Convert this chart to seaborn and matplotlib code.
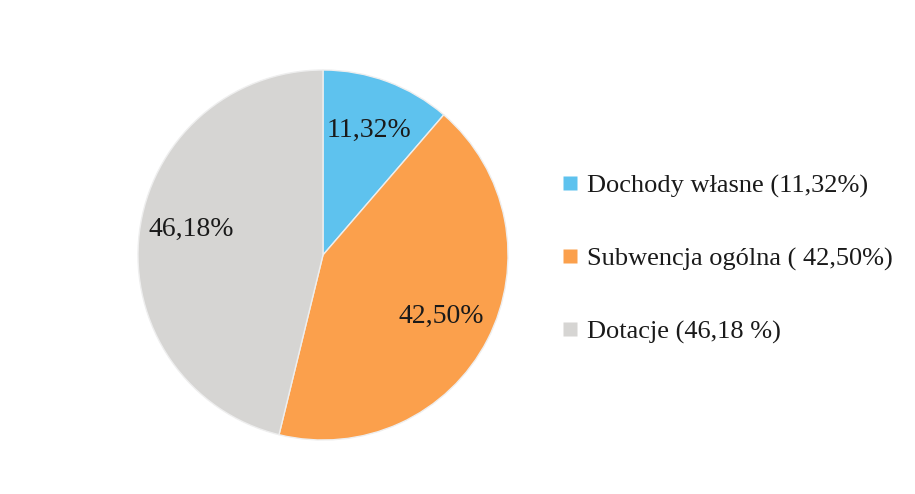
import matplotlib
matplotlib.use("Agg")
import matplotlib.pyplot as plt
from matplotlib.lines import Line2D
import seaborn as sns

# -------------------------------
# DATA
# -------------------------------

categories = ["Dochody własne", "Subwencja ogólna", "Dotacje"]
shares = [11.32, 42.50, 46.18]
legend_labels = ["Dochody własne (11,32%)", "Subwencja ogólna ( 42,50%)", "Dotacje (46,18 %)"]
colors = ["#5ec2ee", "#fba04c", "#d6d5d3"]

# -------------------------------
# PLOT
# -------------------------------

sns.set_style("white")
plt.rcParams["font.family"] = ["Liberation Serif", "DejaVu Serif"]

fig = plt.figure(figsize=(9.15, 4.94), dpi=100)
ax = fig.add_axes([0.1508, 0.1093, 0.4044, 0.749])

wedges, texts, autotexts = ax.pie(
    shares,
    colors=colors,
    startangle=90,
    counterclock=False,
    autopct=lambda p: f"{p:.2f}%".replace(".", ","),
    pctdistance=0.72,
    wedgeprops={"edgecolor": "#eeeeee", "linewidth": 1},
    textprops={"fontsize": 20, "color": "#1a1a1a"},
)
# grey label sits a little higher in the original
x, y = autotexts[2].get_position()
autotexts[2].set_position((x, y + 0.05))

ax.set_xlim(-1, 1)
ax.set_ylim(-1, 1)
ax.set_aspect("equal")

handles = [Line2D([0], [0], marker="s", color="none", markerfacecolor=c,
                  markeredgecolor="none", markersize=10) for c in colors]
fig.legend(handles, legend_labels, loc="center left", bbox_to_anchor=(0.587, 0.476),
           frameon=False, fontsize=19, labelspacing=1.85, handlelength=0.7,
           handletextpad=0.3, labelcolor="#1a1a1a")

fig.savefig("out.png", dpi=100)
